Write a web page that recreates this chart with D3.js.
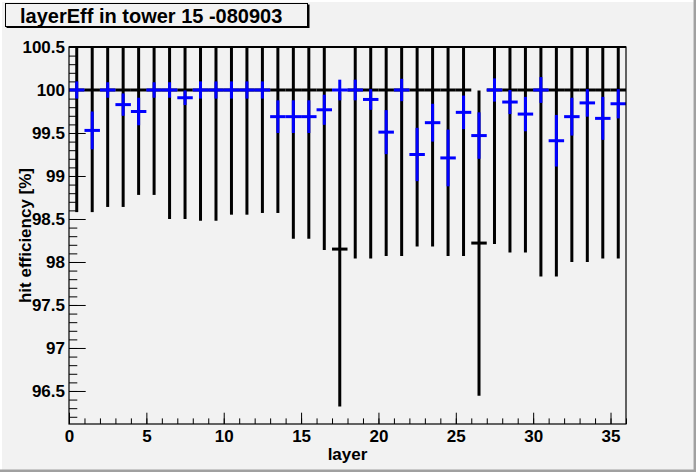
<!DOCTYPE html>
<html>
<head>
<meta charset="utf-8">
<script src="https://cdn.jsdelivr.net/npm/d3@7"></script>
<style>
  body { margin: 0; background: #f2f2f2; }
  text { font-family: "Liberation Sans", Arial, sans-serif; font-weight: bold; }
</style>
</head>
<body>
<div id="container"></div>
<script>
/* CONSTANTS AND GLOBALS */
const width = 696;
const height = 472;
const frame = { left: 69, right: 626, top: 47, bottom: 424 };

/* DATA */
const layers = d3.range(36);
// reference histogram (black)
const refValue = [100, 100, 100, 100, 100, 100, 100, 100, 100, 100, 100, 100,
  100, 100, 100, 100, 100, 98.15, 100, 100, 100, 100, 100, 100,
  100, 100, 98.22, 100, 100, 100, 100, 100, 100, 100, 100, 100];
const refErr = [1.42, 1.42, 1.36, 1.36, 1.22, 1.22, 1.50, 1.50, 1.52, 1.52, 1.45, 1.45,
  1.43, 1.43, 1.73, 1.73, 1.86, 1.83, 1.96, 1.96, 1.93, 1.93, 1.82, 1.82,
  1.93, 1.93, 1.775, 1.79, 1.89, 1.89, 2.17, 2.17, 2.00, 2.00, 1.96, 1.96];
// measured efficiency (blue)
const effValue = [100, 99.53, 100, 99.83, 99.75, 100, 100, 99.91, 100, 100, 100, 100,
  100, 99.69, 99.69, 99.69, 99.77, 100, 100, 99.89, 99.51, 100, 99.25, 99.62,
  99.21, 99.74, 99.47, 100, 99.86, 99.72, 100, 99.41, 99.69, 99.85, 99.67, 99.84];
const effErr = [0.10, 0.22, 0.09, 0.13, 0.16, 0.09, 0.09, 0.085, 0.10, 0.10, 0.10, 0.10,
  0.10, 0.19, 0.19, 0.19, 0.175, 0.12, 0.12, 0.12, 0.256, 0.13, 0.31, 0.22,
  0.33, 0.195, 0.27, 0.135, 0.14, 0.20, 0.15, 0.30, 0.22, 0.16, 0.25, 0.17];

const xTicks = [0, 5, 10, 15, 20, 25, 30, 35];
const yTicks = [96.5, 97, 97.5, 98, 98.5, 99, 99.5, 100, 100.5];

const svg = d3.select("#container")
  .append("svg")
  .attr("width", width)
  .attr("height", height)
  .style("display", "block")
  .style("background-color", "#f2f2f2");

/* SCALES */
const xScale = d3.scaleLinear()
  .domain([0, 36])
  .range([frame.left, frame.right]);

const yScale = d3.scaleLinear()
  .domain([96.116, 100.5])
  .range([frame.bottom, frame.top]);

// canvas bevel
svg.append("line").attr("x1", 0).attr("y1", 1).attr("x2", width).attr("y2", 1)
  .attr("stroke", "#ffffff").attr("stroke-width", 2);
svg.append("line").attr("x1", 1).attr("y1", 0).attr("x2", 1).attr("y2", height)
  .attr("stroke", "#ffffff").attr("stroke-width", 2);
svg.append("line").attr("x1", 0).attr("y1", height - 1.2).attr("x2", width).attr("y2", height - 1.2)
  .attr("stroke", "#a0a0a0").attr("stroke-width", 2.5);
svg.append("line").attr("x1", width - 1.2).attr("y1", 0).attr("x2", width - 1.2).attr("y2", height)
  .attr("stroke", "#a0a0a0").attr("stroke-width", 2.5);

svg.append("clipPath").attr("id", "clip")
  .append("rect")
  .attr("x", frame.left).attr("y", frame.top)
  .attr("width", frame.right - frame.left)
  .attr("height", frame.bottom - frame.top);

/* AXES */
// y minor ticks
svg.append("g")
  .attr("transform", `translate(${frame.left},0)`)
  .call(d3.axisLeft(yScale)
    .tickValues(d3.range(962, 1006).map(d => d / 10))
    .tickSize(-8.3).tickSizeOuter(0).tickFormat(""))
  .call(g => g.select(".domain").remove());

svg.append("g")
  .attr("class", "y-axis")
  .attr("transform", `translate(${frame.left},0)`)
  .call(d3.axisLeft(yScale)
    .tickValues(yTicks)
    .tickSize(-16.7).tickSizeOuter(0).tickPadding(4)
    .tickFormat(d3.format("")))
  .call(g => g.select(".domain").remove())
  .call(g => g.selectAll("text").attr("font-size", 17).attr("fill", "#000"));

// x minor ticks
svg.append("g")
  .attr("transform", `translate(0,${frame.bottom})`)
  .call(d3.axisBottom(xScale)
    .tickValues(d3.range(0, 37))
    .tickSize(-5.6).tickSizeOuter(0).tickFormat(""))
  .call(g => g.select(".domain").remove());

svg.append("g")
  .attr("class", "x-axis")
  .attr("transform", `translate(0,${frame.bottom})`)
  .call(d3.axisBottom(xScale)
    .tickValues(xTicks)
    .tickSize(-11.3).tickSizeOuter(0).tickPadding(6))
  .call(g => g.select(".domain").remove())
  .call(g => g.selectAll("text").attr("font-size", 17).attr("fill", "#000"));

/* ERROR BARS */
const plot = svg.append("g").attr("clip-path", "url(#clip)");

function drawErrors(values, errs, colour, cls) {
  const g = plot.append("g")
    .attr("class", cls)
    .attr("stroke", colour)
    .attr("stroke-width", 3)
    .attr("fill", "none");

  g.selectAll(".hbar")
    .data(layers)
    .join("line")
    .attr("class", "hbar")
    .attr("x1", i => xScale(i))
    .attr("x2", i => xScale(i + 1))
    .attr("y1", i => yScale(values[i]))
    .attr("y2", i => yScale(values[i]));

  g.selectAll(".vbar")
    .data(layers)
    .join("line")
    .attr("class", "vbar")
    .attr("x1", i => xScale(i + 0.5))
    .attr("x2", i => xScale(i + 0.5))
    .attr("y1", i => yScale(values[i] + errs[i]))
    .attr("y2", i => yScale(values[i] - errs[i]));
}

drawErrors(refValue, refErr, "#000000", "ref");
drawErrors(effValue, effErr, "#0000ff", "eff");

// frame
svg.append("rect")
  .attr("x", frame.left).attr("y", frame.top)
  .attr("width", frame.right - frame.left)
  .attr("height", frame.bottom - frame.top)
  .attr("fill", "none").attr("stroke", "#000").attr("stroke-width", 1.2);
svg.append("line")
  .attr("x1", frame.left).attr("x2", frame.right)
  .attr("y1", frame.top).attr("y2", frame.top)
  .attr("stroke", "#000").attr("stroke-width", 2.2);

/* TITLES */
svg.append("text")
  .attr("x", (frame.left + frame.right) / 2)
  .attr("y", 460)
  .attr("text-anchor", "middle")
  .attr("font-size", 17)
  .text("layer");

svg.append("text")
  .attr("transform", `translate(31,${(frame.top + frame.bottom) / 2}) rotate(-90)`)
  .attr("text-anchor", "middle")
  .attr("font-size", 17)
  .text("hit efficiency [%]");

// title box with shadow
svg.append("rect")
  .attr("x", 6.5).attr("y", 4.5).attr("width", 303).attr("height", 23.5)
  .attr("fill", "#000");
svg.append("rect")
  .attr("x", 5.5).attr("y", 3.5).attr("width", 302).attr("height", 23)
  .attr("fill", "#f2f2f2").attr("stroke", "#000").attr("stroke-width", 1);
svg.append("text")
  .attr("class", "title")
  .attr("x", 20)
  .attr("y", 22.5)
  .attr("font-size", 20)
  .text("layerEff in tower 15 -080903");
</script>
</body>
</html>
